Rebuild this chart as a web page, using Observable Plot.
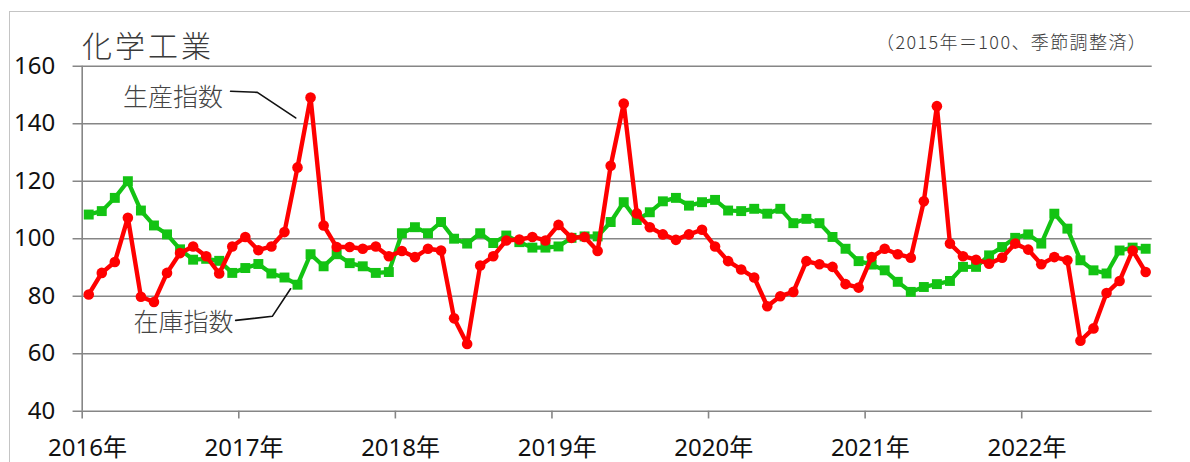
<!DOCTYPE html>
<html>
<head>
<meta charset="utf-8">
<script src="https://cdn.jsdelivr.net/npm/d3@7"></script>
<script src="https://cdn.jsdelivr.net/npm/@observablehq/plot@0.6"></script>
<style>
  html, body { margin: 0; padding: 0; background: #fff; }
  #wrap { position: relative; width: 1190px; height: 462px; overflow: hidden; }
  #frame { position: absolute; left: 9px; top: 11px; width: 1200px; height: 470px;
           border-top: 1.5px solid #c4c4c4; border-left: 1.5px solid #c4c4c4; }
  #title { position: absolute; left: 82px; top: 22px; font-family: "Noto Sans CJK JP", sans-serif;
           font-size: 30px; font-weight: 300; color: #3a3a3a; letter-spacing: 3px; white-space: nowrap; }
  #sub { position: absolute; left: 876px; top: 28px; font-family: "Noto Sans CJK JP", sans-serif;
         font-size: 18px; font-weight: 300; color: #3a3a3a; letter-spacing: 1.4px; white-space: nowrap; }
  #chart { position: absolute; left: 0; top: 0; }
</style>
</head>
<body>
<div id="wrap">
  <div id="frame"></div>
  <div id="chart"></div>
  <div id="title">化学工業</div>
  <div id="sub">（2015年＝100、季節調整済）</div>
</div>
<script>
// Monthly data, Jan 2016 – Oct 2022 (2015 = 100, seasonally adjusted)
const yearLabels = ["2016年", "2017年", "2018年", "2019年", "2020年", "2021年", "2022年"];
const yTicks = [40, 60, 80, 100, 120, 140, 160];

// 生産指数 (production index)
const production = [
  80.6, 88.1, 91.9, 107.3, 79.8, 78.0, 88.1, 95.0, 97.3, 93.9, 87.9, 97.3,
  100.6, 96.0, 97.3, 102.3, 124.8, 149.1, 104.6, 97.1, 97.1, 96.5, 97.3, 93.9,
  95.7, 93.6, 96.5, 95.9, 72.3, 63.4, 90.7, 93.9, 99.4, 99.7, 100.6, 99.4,
  104.8, 100.3, 100.6, 95.7, 125.4, 147.0, 108.8, 104.0, 101.5, 99.6, 101.5, 103.1,
  97.3, 92.2, 89.3, 86.5, 76.5, 80.0, 81.5, 92.2, 91.1, 90.2, 84.2, 83.0,
  93.6, 96.5, 94.6, 93.4, 113.0, 146.1, 98.3, 93.9, 92.7, 91.3, 93.4, 98.3,
  96.2, 91.1, 93.6, 92.5, 64.5, 68.8, 81.1, 85.3, 95.9, 88.4
];

// 在庫指数 (inventory index)
const inventory = [
  108.4, 109.6, 114.2, 120.0, 109.8, 104.6, 101.5, 96.3, 92.7, 93.0, 92.3, 88.1,
  89.8, 91.2, 87.9, 86.5, 84.0, 94.6, 90.4, 94.6, 91.5, 90.4, 88.1, 88.4,
  101.9, 104.0, 101.9, 105.8, 100.0, 98.3, 101.9, 98.5, 101.1, 98.8, 96.9, 96.9,
  97.3, 100.3, 100.8, 100.8, 105.8, 112.7, 106.5, 109.2, 113.0, 114.2, 111.5, 112.7,
  113.5, 109.8, 109.6, 110.4, 108.7, 110.4, 105.4, 106.9, 105.4, 100.6, 96.5, 92.2,
  91.0, 89.0, 85.0, 81.5, 83.2, 84.2, 85.3, 90.2, 90.2, 94.2, 97.1, 100.3,
  101.5, 98.3, 108.7, 103.5, 92.5, 89.0, 87.9, 95.9, 96.9, 96.5
];

// Series labels with leader lines, positioned in data coordinates (month index, value)
const seriesLabels = [
  {text: "生産指数", x: 10.8, y: 149.0},
  {text: "在庫指数", x: 11.6, y: 70.8}
];
const leaders = [
  {id: "prod", pts: [[11.37, 151.3], [13.42, 150.9], [16.36, 142.0]]},
  {id: "inv", pts: [[11.76, 71.6], [14.57, 73.0], [15.97, 82.6]]}
];

const nMonths = production.length;
const table = production.map((p, i) => ({i: i + 0.5, prod: p, inv: inventory[i]}));
const yearTable = yearLabels.map((label, k) => ({start: k * 12, label}));
const leaderTable = leaders.flatMap(l => l.pts.map(([x, y]) => ({id: l.id, x, y})));

const numFont = "'Noto Sans', 'Noto Sans CJK JP', sans-serif";
const red = "#ff0000";
const green = "#13c313";

const chart = Plot.plot({
  width: 1190,
  height: 462,
  marginLeft: 81.7,
  marginRight: 38.3,
  marginTop: 65.7,
  marginBottom: 51.3,
  style: {background: "transparent", overflow: "visible"},
  x: {domain: [0, nMonths], axis: null},
  y: {domain: [40, 160], axis: null},
  marks: [
    Plot.ruleY(yTicks, {x1: -0.7, x2: nMonths, stroke: "#868686", strokeWidth: 1.6}),
    Plot.ruleX([0], {y1: 40, y2: 160, stroke: "#868686", strokeWidth: 1.6}),
    Plot.ruleX(yearTable, {x: "start", y1: 40, y2: 37.3, stroke: "#868686", strokeWidth: 1.6}),
    Plot.text(yTicks, {x: 0, y: d => d, text: d => String(d), textAnchor: "end", dx: -27,
      fontSize: 24, fontFamily: numFont, fill: "#111"}),
    Plot.text(yearTable, {x: d => d.start + 0.4, y: 40, text: "label", dy: 37,
      fontSize: 24, fontFamily: numFont, fill: "#111"}),
    Plot.line(table, {x: "i", y: "inv", stroke: green, strokeWidth: 4.2}),
    Plot.dot(table, {x: "i", y: "inv", symbol: "square", r: 5.6, fill: green, stroke: "none"}),
    Plot.line(table, {x: "i", y: "prod", stroke: red, strokeWidth: 4.4}),
    Plot.dot(table, {x: "i", y: "prod", r: 5.3, fill: red, stroke: "none"}),
    Plot.line(leaderTable, {x: "x", y: "y", z: "id", stroke: "#111", strokeWidth: 1.6, curve: "linear"}),
    Plot.text(seriesLabels, {x: "x", y: "y", text: "text", textAnchor: "end",
      fontSize: 25, fontWeight: 300, fontFamily: "'Noto Sans CJK JP', sans-serif", fill: "#444"})
  ]
});
document.getElementById("chart").appendChild(chart);
</script>
</body>
</html>
